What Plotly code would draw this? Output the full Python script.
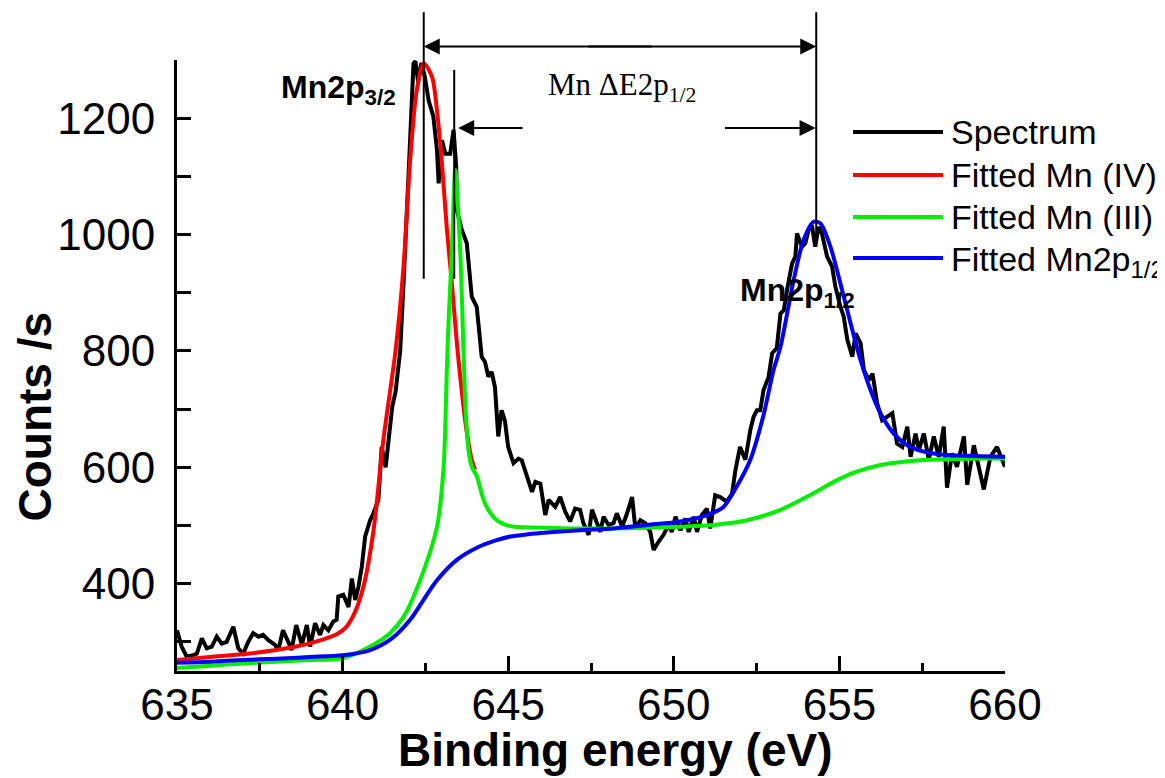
import plotly.graph_objects as go

# ---------------- data ----------------
spectrum_E = [635.00, 635.14, 635.29, 635.49, 635.60, 635.75, 635.90, 636.05, 636.20, 636.35,
              636.50, 636.70, 636.85, 637.00, 637.15, 637.30, 637.46, 637.60, 637.76, 637.96,
              638.06, 638.20, 638.36, 638.46, 638.60, 638.77, 638.92, 639.02, 639.17, 639.32,
              639.42, 639.57, 639.72, 639.82, 639.87, 640.02, 640.18, 640.28, 640.38, 640.48,
              640.58, 640.68, 640.83, 640.93, 641.08, 641.18, 641.30, 641.40, 641.50, 641.60,
              641.74, 641.84, 641.94, 642.04, 642.14, 642.20, 642.28, 642.38, 642.48, 642.60,
              642.74, 642.85, 642.90, 643.00, 643.10, 643.25, 643.35, 643.43, 643.45, 643.60,
              643.75, 643.90, 644.05, 644.20, 644.30, 644.40, 644.50, 644.60, 644.70, 644.80,
              644.90, 645.00, 645.16, 645.31, 645.41, 645.56, 645.72, 645.82, 645.97, 646.12,
              646.22, 646.42, 646.57, 646.72, 646.87, 647.02, 647.17, 647.27, 647.43, 647.53,
              647.68, 647.78, 647.88, 648.03, 648.18, 648.28, 648.44, 648.59, 648.74, 648.84,
              648.99, 649.14, 649.29, 649.39, 649.54, 649.69, 649.84, 649.94, 650.05, 650.20,
              650.35, 650.45, 650.60, 650.70, 650.85, 651.00, 651.10, 651.25, 651.40, 651.60,
              651.76, 651.86, 652.00, 652.16, 652.31, 652.41, 652.51, 652.61, 652.71, 652.86,
              652.97, 653.11, 653.22, 653.32, 653.42, 653.57, 653.67, 653.72, 653.87, 653.97,
              654.07, 654.17, 654.27, 654.37, 654.47, 654.63, 654.78, 654.88, 655.03, 655.13,
              655.24, 655.39, 655.49, 655.64, 655.74, 655.89, 656.00, 656.14, 656.29, 656.44,
              656.60, 656.74, 656.90, 657.05, 657.15, 657.30, 657.40, 657.55, 657.70, 657.85,
              658.00, 658.15, 658.25, 658.40, 658.55, 658.76, 658.86, 659.06, 659.26, 659.36,
              659.56, 659.76, 660.00]
spectrum_counts = [320, 292, 275, 277, 280, 306, 289, 292, 309, 297,
                   300, 326, 289, 280, 300, 315, 309, 312, 303, 295,
                   286, 320, 300, 286, 329, 295, 329, 292, 332, 312,
                   329, 320, 335, 338, 378, 381, 360, 409, 372, 395,
                   429, 481, 509, 521, 544, 635, 600, 650, 705, 730,
                   801, 916, 1060, 1165, 1294, 1298, 1262, 1295, 1272, 1230,
                   1203, 1145, 1088, 1162, 1139, 1139, 1180, 1117, 1042, 1008,
                   985, 893, 876, 790, 781, 756, 764, 738, 653, 698,
                   680, 635, 607, 615, 612, 584, 558, 575, 572, 518,
                   544, 532, 549, 524, 507, 529, 527, 504, 484, 527,
                   504, 489, 515, 501, 504, 521, 498, 521, 549, 495,
                   509, 504, 489, 458, 472, 484, 501, 489, 515, 492,
                   512, 489, 515, 489, 518, 529, 495, 552, 549, 541,
                   555, 595, 635, 613, 664, 687, 698, 698, 733, 755,
                   796, 805, 864, 870, 905, 950, 962, 1002, 979, 985,
                   1008, 1016, 979, 1013, 1002, 962, 945, 910, 876, 859,
                   819, 790, 830, 813, 767, 750, 761, 710, 681, 687,
                   693, 641, 635, 670, 618, 658, 630, 658, 613, 653,
                   618, 670, 565, 624, 601, 653, 570, 638, 584, 562,
                   618, 635, 601]

mn4_E = [635.0, 636.0, 637.2, 638.6, 639.4, 639.82, 640.1, 640.35, 640.63, 640.93,
         641.23, 641.6, 641.84, 642.04, 642.24, 642.45, 642.7, 642.85, 643.0, 643.15,
         643.3, 643.45, 643.6, 643.75, 643.9, 644.0]
mn4_counts = [269, 274, 280, 292, 304, 313, 325, 348, 395, 490,
              647, 801, 945, 1128, 1248, 1294, 1271, 1213, 1122, 1008,
              916, 813, 730, 660, 613, 596]

mn3_E = [635.0, 636.0, 637.0, 638.0, 639.0, 640.0, 640.83, 641.43, 641.84, 642.34,
         642.85, 643.05, 643.15, 643.2, 643.3, 643.4, 643.55, 643.65, 643.7, 643.8,
         643.9, 644.05, 644.15, 644.25, 644.4, 644.66, 645.06, 645.5, 646.17, 647.0,
         648.18, 649.2, 650.2, 651.2, 652.21, 653.22, 653.8, 654.3, 654.83, 655.5,
         656.24, 657.0, 657.75, 658.5, 659.3, 660.0]
mn3_counts = [255, 259, 263, 266, 269, 272, 292, 315, 343, 406,
              498, 601, 773, 850, 973, 1111, 973, 801, 716, 630,
              601, 585, 565, 545, 527, 509, 499, 497, 496, 495,
              495, 496, 498, 501, 509, 527, 543, 558, 575, 592,
              604, 610, 613, 614, 615, 615]

p12_E = [635.0, 636.0, 637.0, 638.0, 639.0, 640.0, 640.83, 641.49, 642.04, 642.44,
         642.85, 643.45, 644.1, 644.6, 645.06, 645.6, 646.17, 647.17, 648.18, 649.19,
         650.2, 651.0, 651.5, 651.9, 652.31, 652.71, 653.01, 653.22, 653.62, 653.92,
         654.22, 654.43, 654.73, 655.03, 655.34, 655.64, 655.94, 656.24, 656.64, 657.05,
         657.55, 658.25, 659.26, 660.0]
p12_counts = [264, 266, 269, 271, 274, 277, 286, 306, 338, 372,
              406, 441, 463, 474, 481, 485, 488, 492, 495, 501,
              507, 518, 532, 567, 613, 690, 767, 807, 922, 991,
              1022, 1019, 979, 916, 847, 784, 733, 693, 658, 638,
              627, 621, 619, 618]

series_names = ["Spectrum", "Fitted Mn (IV)", "Fitted Mn (III)", "Fitted Mn2p<sub>1/2</sub>"]
series_colors = ["#000000", "#ff0000", "#00ee00", "#0000ff"]

# marker lines (eV) and their count extents
peak_32 = 642.45
shoulder = 643.37
peak_12 = 654.3
marker_top = 1382
marker_bottom_32 = 924
marker_top_shoulder = 1283
marker_bottom_12 = 990
arrow_top_level = 1323
arrow_low_level = 1183
arrow_low_left_tail = 645.48
arrow_low_right_tail = 651.5

X_RANGE = [635, 660]
Y_RANGE = [250, 1300]


def ypaper(v):
    """map a counts value onto the paper fraction of the y axis (for marks above the plot)"""
    return (v - Y_RANGE[0]) / (Y_RANGE[1] - Y_RANGE[0])


# ---------------- figure ----------------
fig = go.Figure()
data = [(spectrum_E, spectrum_counts), (mn4_E, mn4_counts), (mn3_E, mn3_counts), (p12_E, p12_counts)]
for i, ((xs, ys), name, col) in enumerate(zip(data, series_names, series_colors)):
    shape = "linear" if i == 0 else "spline"
    fig.add_trace(go.Scatter(x=xs, y=ys, mode="lines", name=name,
                             line=dict(color=col, width=4, shape=shape, smoothing=0.8),
                             showlegend=False))

shapes = []
# vertical marker lines (x in data, y in paper so they can reach above the frame)
for xv, y0, y1 in [(peak_32, marker_bottom_32, marker_top),
                   (shoulder, marker_bottom_32, marker_top_shoulder),
                   (peak_12, marker_bottom_12, marker_top)]:
    shapes.append(dict(type="line", xref="x", yref="paper", x0=xv, x1=xv,
                       y0=ypaper(y0), y1=ypaper(y1), line=dict(color="black", width=2)))

annotations = []
mid = (peak_32 + peak_12) / 2
head = dict(showarrow=True, arrowhead=2, arrowsize=1.6, arrowwidth=2, arrowcolor="black",
            text="", font=dict(size=1))
# top double arrow (two halves), above the frame
for xh, xt in [(peak_32, mid + 1), (peak_12, mid - 1)]:
    annotations.append(dict(x=xh, y=ypaper(arrow_top_level), xref="x", yref="paper",
                            ax=xt, axref="x", ay=0, ayref="pixel", **head))
# lower arrows
for xh, xt in [(shoulder + 0.12, arrow_low_left_tail), (peak_12 - 0.02, arrow_low_right_tail)]:
    annotations.append(dict(x=xh, y=arrow_low_level, xref="x", yref="y",
                            ax=xt, ay=arrow_low_level, axref="x", ayref="y", **head))

# text labels
annotations.append(dict(text="Mn ΔE2p<sub>1/2</sub>", xref="paper", yref="paper", x=0.4457, y=0.955,
                        xanchor="left", yanchor="middle", showarrow=False,
                        font=dict(family="Liberation Serif, Times New Roman, serif", size=31, color="black")))
annotations.append(dict(text="<b>Mn2p<sub>3/2</sub></b>", xref="paper", yref="paper", x=0.1232, y=0.9518,
                        xanchor="left", yanchor="middle", showarrow=False,
                        font=dict(family="Liberation Sans, Arial", size=32, color="black")))
annotations.append(dict(text="<b>Mn2p<sub>1/2</sub></b>", xref="paper", yref="paper", x=0.6775, y=0.6196,
                        xanchor="left", yanchor="middle", showarrow=False,
                        font=dict(family="Liberation Sans, Arial", size=32, color="black")))

# axis titles
annotations.append(dict(text="<b>Counts /s</b>", xref="paper", yref="paper", x=-0.1715, y=0.4165,
                        textangle=-90, xanchor="center", yanchor="middle", showarrow=False,
                        font=dict(family="Liberation Sans, Arial", size=46, color="black")))
annotations.append(dict(text="<b>Binding energy (eV)</b>", xref="paper", yref="paper", x=0.529, y=-0.1300,
                        xanchor="center", yanchor="middle", showarrow=False,
                        font=dict(family="Liberation Sans, Arial", size=46, color="black")))

# custom legend (long sample lines as in the reference)
legend_rows = [0.8822, 0.8118, 0.7430, 0.6759]
for i, (name, col) in enumerate(zip(series_names, series_colors)):
    yrow = legend_rows[i]
    shapes.append(dict(type="line", xref="paper", yref="paper", x0=0.8164, x1=0.9251,
                       y0=yrow, y1=yrow, line=dict(color=col, width=4)))
    adj = -0.006 if "sub" in name else 0
    annotations.append(dict(text=name, xref="paper", yref="paper", x=0.932, y=yrow + adj,
                            xanchor="left", yanchor="middle", showarrow=False,
                            font=dict(family="Liberation Sans, Arial", size=34, color="black")))

# page body has an 8px margin: compensate so the plot area lands where the reference has it
fig.update_layout(
    width=1157, height=770,
    margin=dict(l=169, r=160, t=52, b=107),
    paper_bgcolor="white", plot_bgcolor="white",
    font=dict(family="Liberation Sans, Arial", color="black"),
    annotations=annotations, shapes=shapes,
    showlegend=False,
)
fig.update_xaxes(range=X_RANGE, tick0=635, dtick=5, ticks="inside", ticklen=15, tickwidth=3,
                 tickcolor="black", showline=True, linewidth=3, linecolor="black",
                 showgrid=False, zeroline=False, tickfont=dict(size=44, color="black"),
                 ticklabelstandoff=-7,
                 minor=dict(dtick=2.5, tick0=635, ticks="inside", ticklen=8, tickwidth=3, tickcolor="black", showgrid=False))
fig.update_yaxes(range=Y_RANGE, tick0=0, dtick=200, ticks="inside", ticklen=14, tickwidth=3,
                 tickcolor="black", showline=True, linewidth=3, linecolor="black",
                 showgrid=False, zeroline=False, tickfont=dict(size=44, color="black"),
                 ticklabelstandoff=10,
                 minor=dict(dtick=100, tick0=0, ticks="inside", ticklen=14, tickwidth=3, tickcolor="black", showgrid=False))

fig.write_html("out.html")
